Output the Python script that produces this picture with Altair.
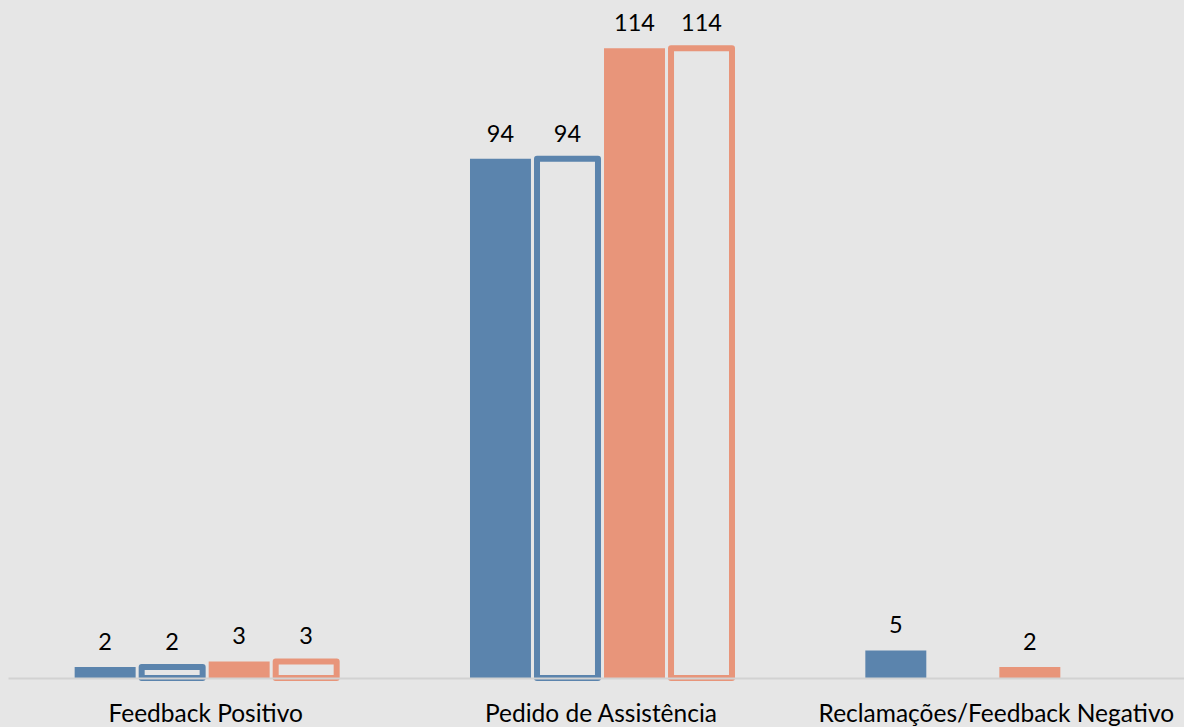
import altair as alt
import pandas as pd

# Categories and the four series (None = no bar in that category)
categorias = ["Feedback Positivo", "Pedido de Assistência", "Reclamações/Feedback Negativo"]
series = ["Série 1", "Série 2", "Série 3", "Série 4"]
valores_s1 = [2, 94, 5]
valores_s2 = [2, 94, None]
valores_s3 = [3, 114, 2]
valores_s4 = [3, 114, None]

# Series 1 and 3 are solid bars, series 2 and 4 are drawn as outlines
estilo = {"Série 1": "cheio", "Série 2": "contorno", "Série 3": "cheio", "Série 4": "contorno"}

AZUL = "#5b84ad"
SALMAO = "#e8957a"
FUNDO = "#e6e6e6"
FONTE = "Lato"

linhas = []
for serie, vals in zip(series, [valores_s1, valores_s2, valores_s3, valores_s4]):
    for cat, v in zip(categorias, vals):
        if v is not None:
            linhas.append({"categoria": cat, "serie": serie, "valor": v, "estilo": estilo[serie]})
df = pd.DataFrame(linhas)

x = alt.X(
    "categoria:N",
    sort=categorias,
    title=None,
    scale=alt.Scale(domain=categorias, range=[0, 1186], paddingInner=0.322, paddingOuter=0.161),
    axis=alt.Axis(
        labelAngle=0,
        labelFont=FONTE,
        labelFontSize=24.5,
        labelColor="#000000",
        labelPadding=24,
        labelLimit=0,
        ticks=False,
        tickSize=0,
        domainColor="#d2d2d2",
        domainWidth=2,
        grid=False,
        zindex=1,
    ),
)
xo = alt.XOffset("serie:N", scale=alt.Scale(domain=series, paddingInner=0.09, paddingOuter=0.045))
y = alt.Y("valor:Q", scale=alt.Scale(domain=[0, 120]), axis=None)
cor = alt.Color("serie:N", scale=alt.Scale(domain=series, range=[AZUL, AZUL, SALMAO, SALMAO]), legend=None)

base = alt.Chart(df).encode(x=x, xOffset=xo, y=y)

cheias = base.transform_filter(alt.datum.estilo == "cheio").mark_bar().encode(color=cor)

contornos = (
    base.transform_filter(alt.datum.estilo == "contorno")
    .mark_bar(filled=False, strokeWidth=6, strokeJoin="round")
    .encode(color=cor)
)

rotulos = base.mark_text(
    dy=-17, baseline="alphabetic", font=FONTE, fontSize=23.5, color="#000000"
).encode(text="valor:Q")

chart = (
    alt.layer(cheias, contornos, rotulos)
    .properties(
        width=1176,
        height=663,
        autosize=alt.AutoSizeParams(type="none"),
        padding={"left": 8, "top": 15, "right": 0, "bottom": 49},
        background=FUNDO,
    )
    .configure_view(stroke=None, fill=FUNDO)
)

chart.save("out.html", embed_options={"renderer": "svg", "actions": False})
